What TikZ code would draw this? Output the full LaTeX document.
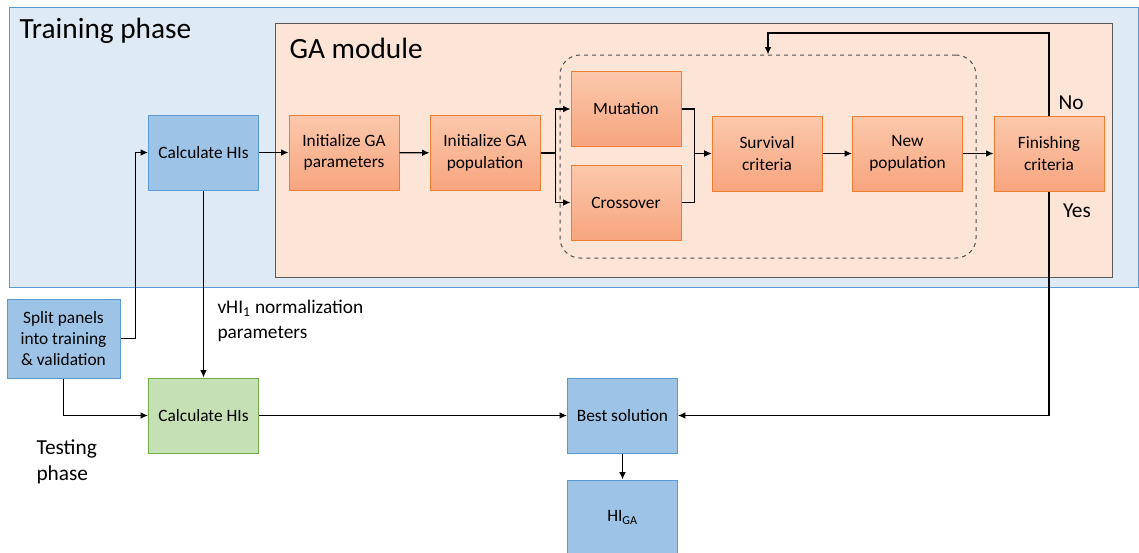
\documentclass[tikz,border=0pt]{standalone}
\usepackage{fontspec}
\setmainfont{Carlito}
\usetikzlibrary{arrows.meta}

\definecolor{phaseblue}{RGB}{222,235,247}
\definecolor{phaseline}{RGB}{91,155,213}
\definecolor{gafill}{RGB}{252,228,214}
\definecolor{orangeline}{RGB}{237,125,49}
\definecolor{orangetop}{RGB}{251,200,172}
\definecolor{orangebot}{RGB}{247,165,126}
\definecolor{boxblue}{RGB}{157,195,230}
\definecolor{boxgreen}{RGB}{197,224,180}
\definecolor{greenline}{RGB}{112,173,71}

\tikzset{every picture/.style={line width=0.75pt}}
\tikzset{
  gabox/.style={draw=orangeline, top color=orangetop, bottom color=orangebot, align=center,
    minimum width=82.5pt, minimum height=56.25pt, inner sep=2pt, font=\fontsize{13}{16}\selectfont},
  bluebox/.style={gabox, draw=phaseline, top color=boxblue, bottom color=boxblue},
  greenbox/.style={gabox, draw=greenline, top color=boxgreen, bottom color=boxgreen},
  conn/.style={line width=1pt, -{Latex[length=5.5pt,width=5pt]}},
}

\begin{document}
\begin{tikzpicture}[x=0.75pt,y=0.75pt,yscale=-1,xscale=1]
\useasboundingbox (0,0) rectangle (1139,553);

%Shape: Rectangle [training phase]
\draw [draw=phaseline, fill=phaseblue] (9,7) rectangle (1138,287) ;
%Shape: Rectangle [GA module]
\draw [draw={rgb, 255:red, 90; green, 90; blue, 90 }, fill=gafill] (275,23) rectangle (1112,277) ;

% Text Node
\node [anchor=west, inner sep=0.75pt, font=\fontsize{22}{26}\selectfont] (trainlbl) at (18,31) {Training phase};
% Text Node
\node [anchor=west, inner sep=0.75pt, font=\fontsize{22}{26}\selectfont] (galbl) at (288,48) {GA module};

%Shape: Rounded Rect [dashed loop]
\node [draw={rgb, 255:red, 80; green, 80; blue, 80 }, dashed, rounded corners=15pt, minimum width=312pt, minimum height=152.25pt] (loop) at (768,156.5) {};

% Boxes
\node [bluebox] (calc) at (203.5,152.5) {Calculate HIs};
\node [gabox] (initpar) at (344,152.5) {Initialize GA\\parameters};
\node [gabox] (initpop) at (485,153) {Initialize GA\\population};
\node [gabox] (mut) at (626,109) {Mutation};
\node [gabox] (cross) at (626,202.5) {Crossover};
\node [gabox] (surv) at (767,153.5) {Survival\\criteria};
\node [gabox] (newpop) at (907.5,153.5) {New\\population};
\node [gabox] (finish) at (1049,153.5) {Finishing\\criteria};
\node [bluebox, minimum width=84.75pt, minimum height=59.25pt] (split) at (63.5,338.5) {Split panels\\into training\\\& validation};
\node [greenbox] (calctest) at (203.5,415.5) {Calculate HIs};
\node [bluebox] (best) at (622.5,415.5) {Best solution};
\node [bluebox] (higa) at (622.5,517.5) {HI\textsubscript{GA}};

% Text Node
\node [anchor=center, inner sep=0.75pt, font=\fontsize{16}{19}\selectfont] (nolbl) at (1071,103) {No};
% Text Node
\node [anchor=center, inner sep=0.75pt, font=\fontsize{16}{19}\selectfont] (yeslbl) at (1077,211) {Yes};
% Text Node
\node [anchor=north west, inner sep=0.75pt, align=left, font=\fontsize{14.5}{18.5}\selectfont] (normlbl) at (216,299) {vHI\textsubscript{1} normalization\\parameters};
% Text Node
\node [anchor=north west, inner sep=0.75pt, align=left, font=\fontsize{16}{20}\selectfont] (testlbl) at (35,438) {Testing\\phase};

% Connectors
\draw [conn] (calc) -- (initpar) ;
\draw [conn] (initpar) -- (initpop) ;
\draw [conn] (initpop.east) -- ++(15,0) |- (mut.west) ;
\draw [conn] (initpop.east) -- ++(15,0) |- (cross.west) ;
\draw [conn] (mut.east) -- ++(13,0) |- (surv.west) ;
\draw [conn] (cross.east) -- ++(13,0) |- (surv.west) ;
\draw [conn] (surv) -- (newpop) ;
\draw [conn] (newpop) -- (finish) ;
\draw [conn] (finish.north) -- (finish.north |- 0,33) -| (loop.north) ;
\draw [conn] (finish.south) |- (best.east) ;
\draw [conn] (split.east) -- ++(15,0) |- (calc.west) ;
\draw [conn] (split.south) |- (calctest.west) ;
\draw [conn] (calc) -- (calctest) ;
\draw [conn] (calctest) -- (best) ;
\draw [conn] (best) -- (higa) ;

\end{tikzpicture}
\end{document}
